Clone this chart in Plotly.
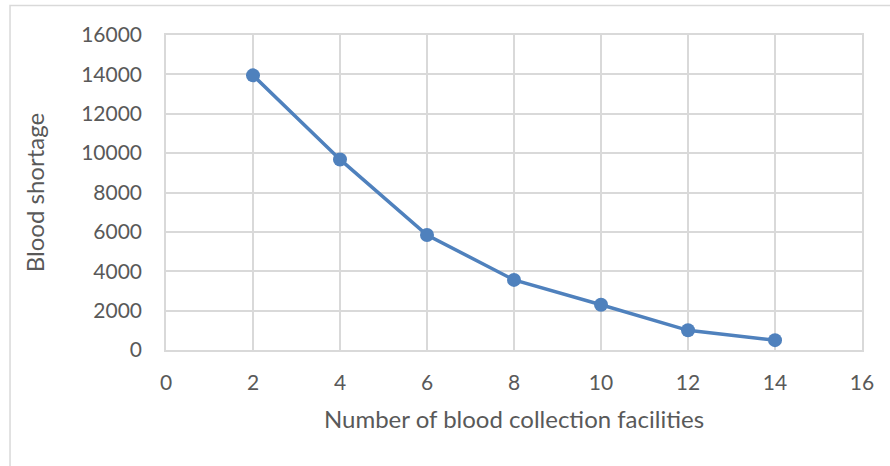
import plotly.graph_objects as go

facilities = [2, 4, 6, 8, 10, 12, 14]
shortage = [13950, 9680, 5840, 3560, 2300, 1000, 500]
x_ticks = [0, 2, 4, 6, 8, 10, 12, 14, 16]
y_ticks = [0, 2000, 4000, 6000, 8000, 10000, 12000, 14000, 16000]
y_tick_labels = [str(v) for v in y_ticks]
x_tick_labels = [str(v) for v in x_ticks]

fig = go.Figure()
fig.add_trace(go.Scatter(
    x=facilities, y=shortage, mode="lines+markers",
    line=dict(color="#4F81BD", width=3.5),
    marker=dict(color="#4F81BD", size=14),
    showlegend=False, cliponaxis=False,
))

font = dict(family="Lato, 'Open Sans', sans-serif", color="#595959")
axis_common = dict(
    showgrid=True, gridcolor="#d9d9d9", gridwidth=1.5,
    showline=True, linecolor="#d9d9d9", linewidth=1.5, mirror=True,
    zeroline=False, ticks="", tickfont=dict(size=21, **font),
)
fig.update_xaxes(range=[0, 16], tickvals=x_ticks, ticktext=x_tick_labels, ticklabelstandoff=13,
                 title=dict(text="Number of blood collection facilities",
                            font=dict(size=24, **font), standoff=18),
                 **axis_common)
fig.update_yaxes(range=[0, 16000], tickvals=y_ticks, ticktext=y_tick_labels, ticklabelstandoff=18,
                 title=dict(text="Blood shortage", font=dict(size=24, **font), standoff=30),
                 **axis_common)

fig.add_shape(type="rect", xref="paper", yref="paper",
              x0=-0.2241, x1=1.06, y0=-0.40, y1=1.0937,
              line=dict(color="#d9d9d9", width=1.5), fillcolor="rgba(0,0,0,0)", layer="below")

fig.update_layout(
    width=890, height=466,
    margin=dict(l=166, r=28, t=35, b=116),
    paper_bgcolor="white", plot_bgcolor="white",
)
fig.write_html("out.html")
